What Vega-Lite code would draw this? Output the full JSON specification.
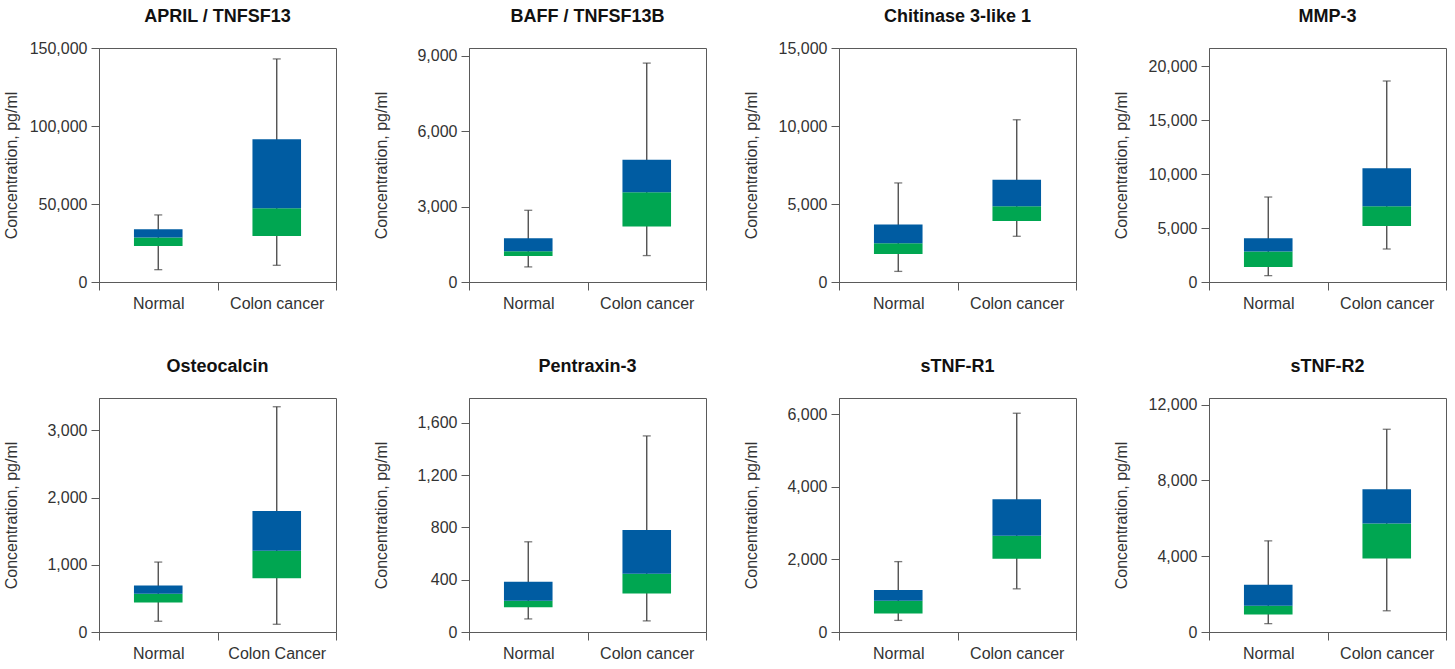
{
  "$schema": "https://vega.github.io/schema/vega-lite/v6.json",
  "background": "white",
  "padding": {"left": 2, "top": 7, "right": 5, "bottom": 5},
  "data": {"values": [
    {"marker": "APRIL / TNFSF13", "group": "Normal", "min": 7900, "q1": 23100, "median": 28600, "q3": 33800, "max": 43000},
    {"marker": "APRIL / TNFSF13", "group": "Colon cancer", "min": 10700, "q1": 29500, "median": 47200, "q3": 91500, "max": 143000},
    {"marker": "BAFF / TNFSF13B", "group": "Normal", "min": 600, "q1": 1030, "median": 1220, "q3": 1740, "max": 2850},
    {"marker": "BAFF / TNFSF13B", "group": "Colon cancer", "min": 1050, "q1": 2210, "median": 3570, "q3": 4860, "max": 8700},
    {"marker": "Chitinase 3-like 1", "group": "Normal", "min": 680, "q1": 1800, "median": 2480, "q3": 3680, "max": 6350},
    {"marker": "Chitinase 3-like 1", "group": "Colon cancer", "min": 2930, "q1": 3910, "median": 4850, "q3": 6560, "max": 10400},
    {"marker": "MMP-3", "group": "Normal", "min": 590, "q1": 1390, "median": 2840, "q3": 4050, "max": 7880},
    {"marker": "MMP-3", "group": "Colon cancer", "min": 3060, "q1": 5190, "median": 7020, "q3": 10540, "max": 18640},
    {"marker": "Osteocalcin", "group": "Normal", "min": 160, "q1": 440, "median": 570, "q3": 690, "max": 1040},
    {"marker": "Osteocalcin", "group": "Colon Cancer", "min": 115, "q1": 800, "median": 1210, "q3": 1800, "max": 3350},
    {"marker": "Pentraxin-3", "group": "Normal", "min": 100, "q1": 190, "median": 240, "q3": 385, "max": 690},
    {"marker": "Pentraxin-3", "group": "Colon cancer", "min": 85, "q1": 295, "median": 445, "q3": 780, "max": 1500},
    {"marker": "sTNF-R1", "group": "Normal", "min": 320, "q1": 510, "median": 860, "q3": 1160, "max": 1940},
    {"marker": "sTNF-R1", "group": "Colon cancer", "min": 1190, "q1": 2020, "median": 2650, "q3": 3660, "max": 6030},
    {"marker": "sTNF-R2", "group": "Normal", "min": 440, "q1": 930, "median": 1390, "q3": 2490, "max": 4810},
    {"marker": "sTNF-R2", "group": "Colon cancer", "min": 1120, "q1": 3880, "median": 5720, "q3": 7540, "max": 10700}
  ]},
  "config": {
    "font": "Liberation Sans",
    "view": {"stroke": "#5a5a5a", "strokeWidth": 1},
    "axis": {"grid": false, "labelFont": "Liberation Sans", "labelFontSize": 16, "labelColor": "#333333", "titleFont": "Liberation Sans", "titleFontSize": 16, "titleFontWeight": "normal", "titleColor": "#333333", "tickColor": "#5a5a5a", "domainColor": "#5a5a5a", "tickSize": 8, "labelPadding": 4},
    "axisY": {"minExtent": 68, "maxExtent": 68, "titlePadding": 12, "format": ",d"},
    "axisX": {"title": null, "labelAngle": 0, "tickBand": "extent", "labelPadding": 5},
    "title": {"fontSize": 18, "fontWeight": "bold", "color": "#111111", "anchor": "middle", "frame": "group", "offset": 14, "font": "Liberation Sans"}
  },
  "columns": 4,
  "spacing": {"row": 45, "column": 35},
  "concat": [
    {
      "title": {"text": "APRIL / TNFSF13", "offset": 14}, "width": 237, "height": 234,
      "transform": [{"filter": {"field": "marker", "equal": "APRIL / TNFSF13"}}],
      "encoding": {"x": {"field": "group", "type": "nominal", "sort": null, "scale": {"paddingInner": 0, "paddingOuter": 0}}},
      "layer": [
        {"mark": {"type": "rule", "color": "#444444", "strokeWidth": 1.3}, "encoding": {"y": {"field": "min", "type": "quantitative", "title": "Concentration, pg/ml", "scale": {"domain": [0, 150000], "nice": false}, "axis": {"values": [0, 50000, 100000, 150000]}}, "y2": {"field": "max"}}},
        {"mark": {"type": "bar", "color": "#00a651", "width": {"band": 0.41}}, "encoding": {"y": {"field": "q1", "type": "quantitative", "title": "Concentration, pg/ml"}, "y2": {"field": "median"}}},
        {"mark": {"type": "bar", "color": "#005ca2", "width": {"band": 0.41}}, "encoding": {"y": {"field": "median", "type": "quantitative", "title": "Concentration, pg/ml"}, "y2": {"field": "q3"}}},
        {"mark": {"type": "tick", "color": "#444444", "size": 8, "thickness": 1.3}, "encoding": {"y": {"field": "min", "type": "quantitative", "title": "Concentration, pg/ml"}}},
        {"mark": {"type": "tick", "color": "#444444", "size": 8, "thickness": 1.3}, "encoding": {"y": {"field": "max", "type": "quantitative", "title": "Concentration, pg/ml"}}}
      ]
    },
    {
      "title": {"text": "BAFF / TNFSF13B", "offset": 21.5}, "width": 237, "height": 234,
      "transform": [{"filter": {"field": "marker", "equal": "BAFF / TNFSF13B"}}],
      "encoding": {"x": {"field": "group", "type": "nominal", "sort": null, "scale": {"paddingInner": 0, "paddingOuter": 0}}},
      "layer": [
        {"mark": {"type": "rule", "color": "#444444", "strokeWidth": 1.3}, "encoding": {"y": {"field": "min", "type": "quantitative", "title": "Concentration, pg/ml", "scale": {"domain": [0, 9300], "nice": false}, "axis": {"values": [0, 3000, 6000, 9000]}}, "y2": {"field": "max"}}},
        {"mark": {"type": "bar", "color": "#00a651", "width": {"band": 0.41}}, "encoding": {"y": {"field": "q1", "type": "quantitative", "title": "Concentration, pg/ml"}, "y2": {"field": "median"}}},
        {"mark": {"type": "bar", "color": "#005ca2", "width": {"band": 0.41}}, "encoding": {"y": {"field": "median", "type": "quantitative", "title": "Concentration, pg/ml"}, "y2": {"field": "q3"}}},
        {"mark": {"type": "tick", "color": "#444444", "size": 8, "thickness": 1.3}, "encoding": {"y": {"field": "min", "type": "quantitative", "title": "Concentration, pg/ml"}}},
        {"mark": {"type": "tick", "color": "#444444", "size": 8, "thickness": 1.3}, "encoding": {"y": {"field": "max", "type": "quantitative", "title": "Concentration, pg/ml"}}}
      ]
    },
    {
      "title": {"text": "Chitinase 3-like 1", "offset": 14}, "width": 237, "height": 234,
      "transform": [{"filter": {"field": "marker", "equal": "Chitinase 3-like 1"}}],
      "encoding": {"x": {"field": "group", "type": "nominal", "sort": null, "scale": {"paddingInner": 0, "paddingOuter": 0}}},
      "layer": [
        {"mark": {"type": "rule", "color": "#444444", "strokeWidth": 1.3}, "encoding": {"y": {"field": "min", "type": "quantitative", "title": "Concentration, pg/ml", "scale": {"domain": [0, 15000], "nice": false}, "axis": {"values": [0, 5000, 10000, 15000]}}, "y2": {"field": "max"}}},
        {"mark": {"type": "bar", "color": "#00a651", "width": {"band": 0.41}}, "encoding": {"y": {"field": "q1", "type": "quantitative", "title": "Concentration, pg/ml"}, "y2": {"field": "median"}}},
        {"mark": {"type": "bar", "color": "#005ca2", "width": {"band": 0.41}}, "encoding": {"y": {"field": "median", "type": "quantitative", "title": "Concentration, pg/ml"}, "y2": {"field": "q3"}}},
        {"mark": {"type": "tick", "color": "#444444", "size": 8, "thickness": 1.3}, "encoding": {"y": {"field": "min", "type": "quantitative", "title": "Concentration, pg/ml"}}},
        {"mark": {"type": "tick", "color": "#444444", "size": 8, "thickness": 1.3}, "encoding": {"y": {"field": "max", "type": "quantitative", "title": "Concentration, pg/ml"}}}
      ]
    },
    {
      "title": {"text": "MMP-3", "offset": 22}, "width": 237, "height": 234,
      "transform": [{"filter": {"field": "marker", "equal": "MMP-3"}}],
      "encoding": {"x": {"field": "group", "type": "nominal", "sort": null, "scale": {"paddingInner": 0, "paddingOuter": 0}}},
      "layer": [
        {"mark": {"type": "rule", "color": "#444444", "strokeWidth": 1.3}, "encoding": {"y": {"field": "min", "type": "quantitative", "title": "Concentration, pg/ml", "scale": {"domain": [0, 21700], "nice": false}, "axis": {"values": [0, 5000, 10000, 15000, 20000]}}, "y2": {"field": "max"}}},
        {"mark": {"type": "bar", "color": "#00a651", "width": {"band": 0.41}}, "encoding": {"y": {"field": "q1", "type": "quantitative", "title": "Concentration, pg/ml"}, "y2": {"field": "median"}}},
        {"mark": {"type": "bar", "color": "#005ca2", "width": {"band": 0.41}}, "encoding": {"y": {"field": "median", "type": "quantitative", "title": "Concentration, pg/ml"}, "y2": {"field": "q3"}}},
        {"mark": {"type": "tick", "color": "#444444", "size": 8, "thickness": 1.3}, "encoding": {"y": {"field": "min", "type": "quantitative", "title": "Concentration, pg/ml"}}},
        {"mark": {"type": "tick", "color": "#444444", "size": 8, "thickness": 1.3}, "encoding": {"y": {"field": "max", "type": "quantitative", "title": "Concentration, pg/ml"}}}
      ]
    },
    {
      "title": {"text": "Osteocalcin", "offset": 22}, "width": 237, "height": 234,
      "transform": [{"filter": {"field": "marker", "equal": "Osteocalcin"}}],
      "encoding": {"x": {"field": "group", "type": "nominal", "sort": null, "scale": {"paddingInner": 0, "paddingOuter": 0}}},
      "layer": [
        {"mark": {"type": "rule", "color": "#444444", "strokeWidth": 1.3}, "encoding": {"y": {"field": "min", "type": "quantitative", "title": "Concentration, pg/ml", "scale": {"domain": [0, 3480], "nice": false}, "axis": {"values": [0, 1000, 2000, 3000]}}, "y2": {"field": "max"}}},
        {"mark": {"type": "bar", "color": "#00a651", "width": {"band": 0.41}}, "encoding": {"y": {"field": "q1", "type": "quantitative", "title": "Concentration, pg/ml"}, "y2": {"field": "median"}}},
        {"mark": {"type": "bar", "color": "#005ca2", "width": {"band": 0.41}}, "encoding": {"y": {"field": "median", "type": "quantitative", "title": "Concentration, pg/ml"}, "y2": {"field": "q3"}}},
        {"mark": {"type": "tick", "color": "#444444", "size": 8, "thickness": 1.3}, "encoding": {"y": {"field": "min", "type": "quantitative", "title": "Concentration, pg/ml"}}},
        {"mark": {"type": "tick", "color": "#444444", "size": 8, "thickness": 1.3}, "encoding": {"y": {"field": "max", "type": "quantitative", "title": "Concentration, pg/ml"}}}
      ]
    },
    {
      "title": {"text": "Pentraxin-3", "offset": 22}, "width": 237, "height": 234,
      "transform": [{"filter": {"field": "marker", "equal": "Pentraxin-3"}}],
      "encoding": {"x": {"field": "group", "type": "nominal", "sort": null, "scale": {"paddingInner": 0, "paddingOuter": 0}}},
      "layer": [
        {"mark": {"type": "rule", "color": "#444444", "strokeWidth": 1.3}, "encoding": {"y": {"field": "min", "type": "quantitative", "title": "Concentration, pg/ml", "scale": {"domain": [0, 1790], "nice": false}, "axis": {"values": [0, 400, 800, 1200, 1600]}}, "y2": {"field": "max"}}},
        {"mark": {"type": "bar", "color": "#00a651", "width": {"band": 0.41}}, "encoding": {"y": {"field": "q1", "type": "quantitative", "title": "Concentration, pg/ml"}, "y2": {"field": "median"}}},
        {"mark": {"type": "bar", "color": "#005ca2", "width": {"band": 0.41}}, "encoding": {"y": {"field": "median", "type": "quantitative", "title": "Concentration, pg/ml"}, "y2": {"field": "q3"}}},
        {"mark": {"type": "tick", "color": "#444444", "size": 8, "thickness": 1.3}, "encoding": {"y": {"field": "min", "type": "quantitative", "title": "Concentration, pg/ml"}}},
        {"mark": {"type": "tick", "color": "#444444", "size": 8, "thickness": 1.3}, "encoding": {"y": {"field": "max", "type": "quantitative", "title": "Concentration, pg/ml"}}}
      ]
    },
    {
      "title": {"text": "sTNF-R1", "offset": 22}, "width": 237, "height": 234,
      "transform": [{"filter": {"field": "marker", "equal": "sTNF-R1"}}],
      "encoding": {"x": {"field": "group", "type": "nominal", "sort": null, "scale": {"paddingInner": 0, "paddingOuter": 0}}},
      "layer": [
        {"mark": {"type": "rule", "color": "#444444", "strokeWidth": 1.3}, "encoding": {"y": {"field": "min", "type": "quantitative", "title": "Concentration, pg/ml", "scale": {"domain": [0, 6450], "nice": false}, "axis": {"values": [0, 2000, 4000, 6000]}}, "y2": {"field": "max"}}},
        {"mark": {"type": "bar", "color": "#00a651", "width": {"band": 0.41}}, "encoding": {"y": {"field": "q1", "type": "quantitative", "title": "Concentration, pg/ml"}, "y2": {"field": "median"}}},
        {"mark": {"type": "bar", "color": "#005ca2", "width": {"band": 0.41}}, "encoding": {"y": {"field": "median", "type": "quantitative", "title": "Concentration, pg/ml"}, "y2": {"field": "q3"}}},
        {"mark": {"type": "tick", "color": "#444444", "size": 8, "thickness": 1.3}, "encoding": {"y": {"field": "min", "type": "quantitative", "title": "Concentration, pg/ml"}}},
        {"mark": {"type": "tick", "color": "#444444", "size": 8, "thickness": 1.3}, "encoding": {"y": {"field": "max", "type": "quantitative", "title": "Concentration, pg/ml"}}}
      ]
    },
    {
      "title": {"text": "sTNF-R2", "offset": 20.6}, "width": 237, "height": 234,
      "transform": [{"filter": {"field": "marker", "equal": "sTNF-R2"}}],
      "encoding": {"x": {"field": "group", "type": "nominal", "sort": null, "scale": {"paddingInner": 0, "paddingOuter": 0}}},
      "layer": [
        {"mark": {"type": "rule", "color": "#444444", "strokeWidth": 1.3}, "encoding": {"y": {"field": "min", "type": "quantitative", "title": "Concentration, pg/ml", "scale": {"domain": [0, 12350], "nice": false}, "axis": {"values": [0, 4000, 8000, 12000]}}, "y2": {"field": "max"}}},
        {"mark": {"type": "bar", "color": "#00a651", "width": {"band": 0.41}}, "encoding": {"y": {"field": "q1", "type": "quantitative", "title": "Concentration, pg/ml"}, "y2": {"field": "median"}}},
        {"mark": {"type": "bar", "color": "#005ca2", "width": {"band": 0.41}}, "encoding": {"y": {"field": "median", "type": "quantitative", "title": "Concentration, pg/ml"}, "y2": {"field": "q3"}}},
        {"mark": {"type": "tick", "color": "#444444", "size": 8, "thickness": 1.3}, "encoding": {"y": {"field": "min", "type": "quantitative", "title": "Concentration, pg/ml"}}},
        {"mark": {"type": "tick", "color": "#444444", "size": 8, "thickness": 1.3}, "encoding": {"y": {"field": "max", "type": "quantitative", "title": "Concentration, pg/ml"}}}
      ]
    }
  ]
}
